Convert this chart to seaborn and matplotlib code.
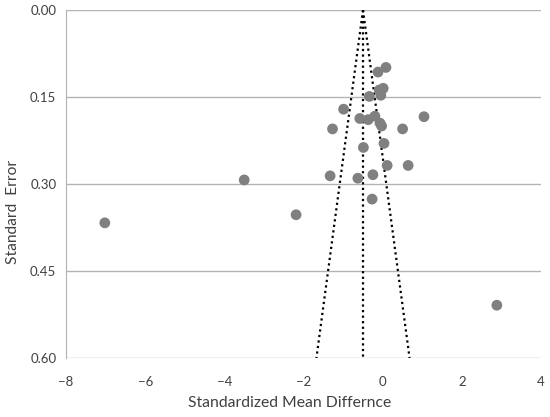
import seaborn as sns
import matplotlib.pyplot as plt
import pandas as pd
import numpy as np

# effect sizes (standardized mean difference) and their standard errors
smd = [0.08, -0.12, 0.01, -0.09, -0.05, -0.34, -0.99, 1.04, -0.58, -0.37,
       -0.20, -0.07, -0.03, -1.27, 0.50, 0.03, -0.49, 0.11, 0.64, -1.33,
       -0.25, -0.63, -0.27, -7.02, -3.50, -2.19, 2.88]
se = [0.099, 0.107, 0.135, 0.138, 0.147, 0.149, 0.171, 0.184, 0.187, 0.189,
      0.183, 0.195, 0.200, 0.205, 0.205, 0.230, 0.237, 0.268, 0.268, 0.286,
      0.284, 0.290, 0.326, 0.367, 0.293, 0.353, 0.509]
pooled = -0.5
se_max = 0.60

df = pd.DataFrame({"smd": smd, "se": se})

sns.set_style("white")
plt.rcParams['font.family'] = ['Lato', 'DejaVu Sans']

fig = plt.figure(figsize=(5.5, 4.17), dpi=100)
ax = fig.add_axes([0.12, 0.1415, 0.864, 0.8345])

# funnel (95% limits) and the pooled line
se_line = np.array([0, se_max])
ax.plot(pooled - 1.96 * se_line, se_line, color="black", linestyle=(0, (1, 1.5)), linewidth=1.6)
ax.plot(pooled + 1.96 * se_line, se_line, color="black", linestyle=(0, (1, 1.5)), linewidth=1.6)
ax.plot([pooled, pooled], se_line, color="black", linestyle=(0, (1, 1.5)), linewidth=1.6)

sns.scatterplot(data=df, x="smd", y="se", ax=ax, s=60, color="#808080",
                edgecolor="none", zorder=3)

ax.set_xlim(-8, 4)
ax.set_ylim(0.60, 0.0)
ax.set_xticks([-8, -6, -4, -2, 0, 2, 4])
ax.set_yticks([0.0, 0.15, 0.30, 0.45, 0.60])
ax.set_yticklabels(["0.00", "0.15", "0.30", "0.45", "0.60"])

ax.yaxis.grid(True, color="#b3b3b3", linewidth=1)
ax.set_axisbelow(True)
for side in ["top", "right", "bottom"]:
    ax.spines[side].set_visible(False)
ax.spines["left"].set_color("#b3b3b3")

ax.tick_params(axis="x", direction="in", length=4, color="#b3b3b3", labelsize=9.5,
               labelcolor="#404040", pad=13)
ax.tick_params(axis="y", direction="out", length=4, color="#b3b3b3", labelsize=9.5,
               labelcolor="#404040", pad=3)

ax.set_xlabel("Standardized Mean Differnce", fontsize=11.3, color="#404040")
ax.set_ylabel("Standard  Error", fontsize=11.2, color="#404040")
ax.xaxis.set_label_coords(0.47, -0.11)
ax.yaxis.set_label_coords(-0.097, 0.42)

fig.savefig("out.png", dpi=100)
